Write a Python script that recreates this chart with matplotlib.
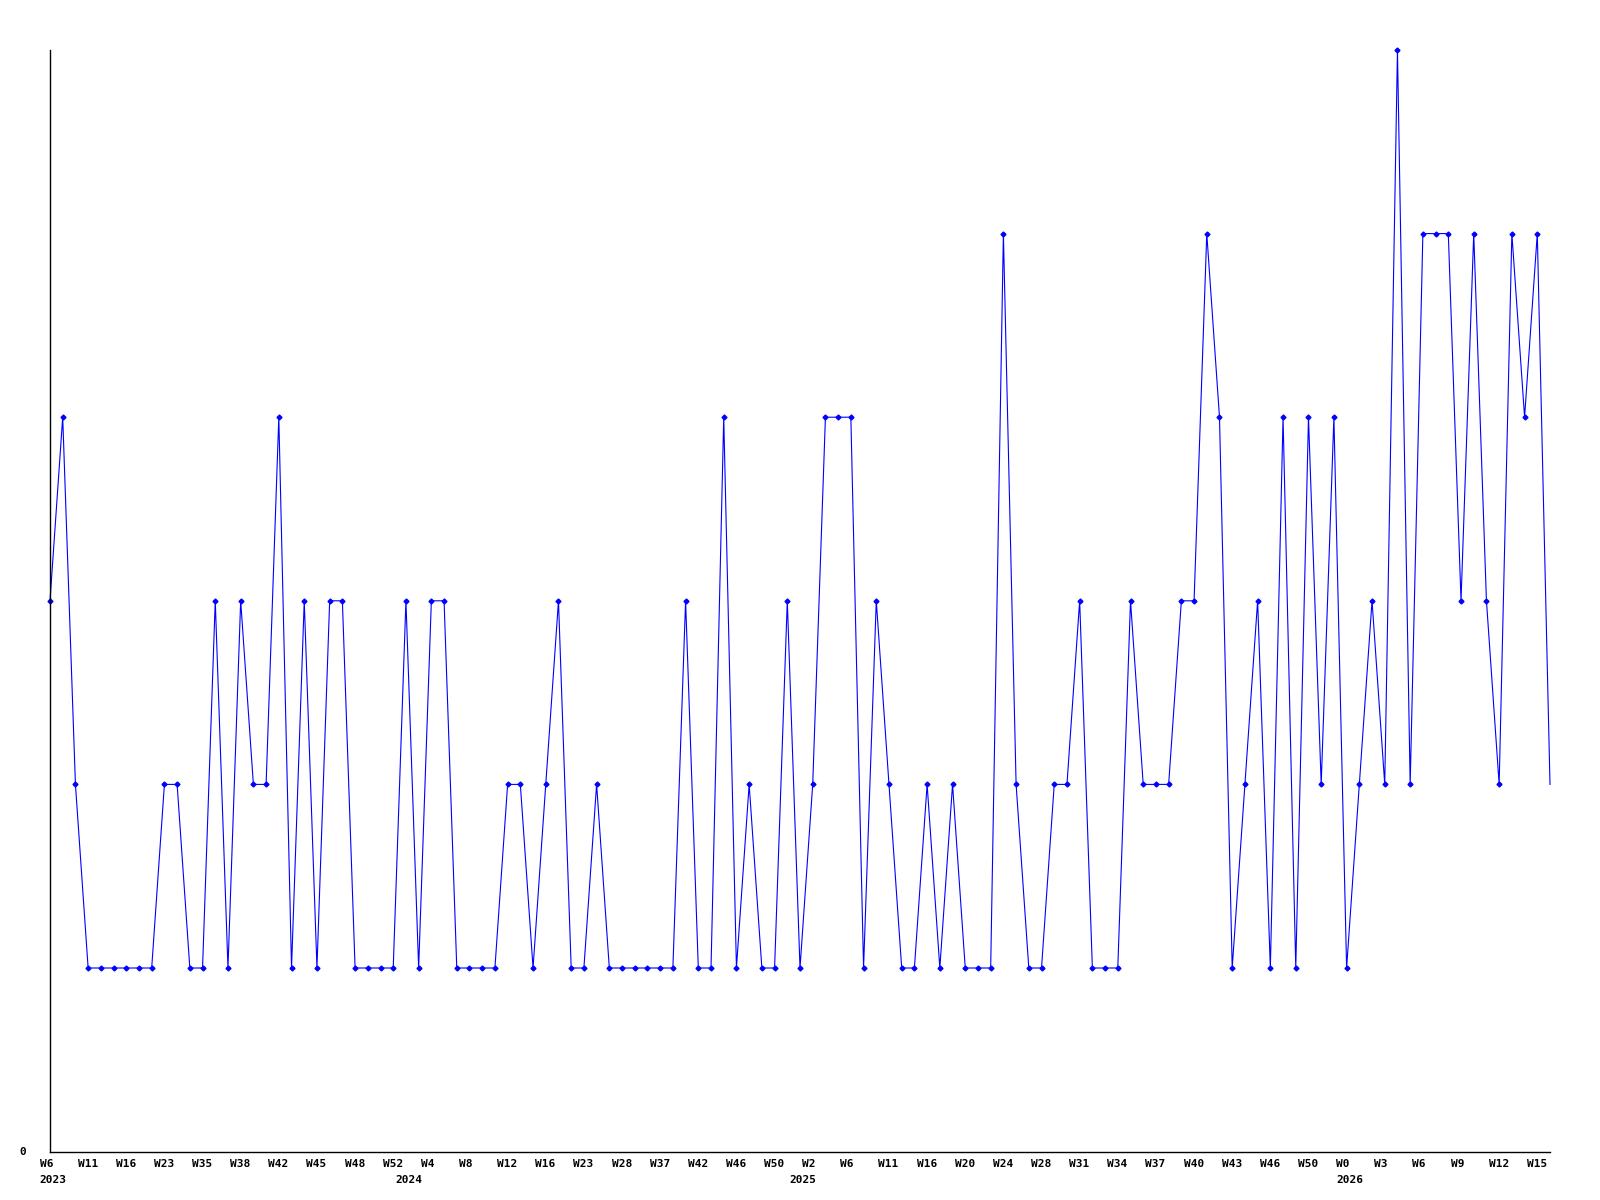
import matplotlib
matplotlib.use("Agg")
import matplotlib.pyplot as plt
import matplotlib.transforms as mtransforms
import numpy as np

# weekly values, one per data point
values = [3, 4, 2, 1, 1, 1, 1, 1, 1, 2, 2, 1, 1, 3, 1, 3, 2, 2, 4, 1,
          3, 1, 3, 3, 1, 1, 1, 1, 3, 1, 3, 3, 1, 1, 1, 1, 2, 2, 1, 2,
          3, 1, 1, 2, 1, 1, 1, 1, 1, 1, 3, 1, 1, 4, 1, 2, 1, 1, 3, 1,
          2, 4, 4, 4, 1, 3, 2, 1, 1, 2, 1, 2, 1, 1, 1, 5, 2, 1, 1, 2,
          2, 3, 1, 1, 1, 3, 2, 2, 2, 3, 3, 5, 4, 1, 2, 3, 1, 4, 1, 4,
          2, 4, 1, 2, 3, 2, 6, 2, 5, 5, 5, 3, 5, 3, 2, 5, 4, 5, 2]

# a week label on every third point
week_labels = ['W6', 'W11', 'W16', 'W23', 'W35', 'W38', 'W42', 'W45', 'W48', 'W52',
               'W4', 'W8', 'W12', 'W16', 'W23', 'W28', 'W37', 'W42', 'W46', 'W50',
               'W2', 'W6', 'W11', 'W16', 'W20', 'W24', 'W28', 'W31', 'W34', 'W37',
               'W40', 'W43', 'W46', 'W50', 'W0', 'W3', 'W6', 'W9', 'W12', 'W15']
label_step = 3

# first point of each year
year_idx = [0, 28, 59, 102]
year_names = ['2023', '2024', '2025', '2026']

x = np.arange(len(values))

fig = plt.figure(figsize=(16, 12), dpi=100)
ax = fig.add_axes([50 / 1600, 1 - 1151.6 / 1200, 1500 / 1600, 1101.6 / 1200])

ax.plot(x, values, color='#0000ff', lw=0.8, marker='D', ms=2.5,
        markevery=list(range(len(values) - 1)), clip_on=False)

ax.set_xlim(0, len(values) - 1)
ax.set_ylim(0, 6)
for s in ['top', 'right']:
    ax.spines[s].set_visible(False)
for s in ['left', 'bottom']:
    ax.spines[s].set_linewidth(1.0)
ax.set_xticks([])
ax.set_yticks([])

font = dict(family='DejaVu Sans Mono', fontweight='bold', fontsize=8)
base = ax.get_xaxis_transform()
week_tr = base + mtransforms.ScaledTranslation(-10.5 / 100, -12 / 100, fig.dpi_scale_trans)
year_tr = base + mtransforms.ScaledTranslation(-10.5 / 100, -28.5 / 100, fig.dpi_scale_trans)

for k, lab in enumerate(week_labels):
    ax.text(k * label_step, 0, lab, transform=week_tr, ha='left', va='center', **font)
for i, name in zip(year_idx, year_names):
    ax.text(i, 0, name, transform=year_tr, ha='left', va='center', **font)

zero_tr = ax.transAxes + mtransforms.ScaledTranslation(-27.5 / 100, 0, fig.dpi_scale_trans)
ax.text(0, 0, '0', transform=zero_tr, ha='center', va='center', **font)

fig.savefig('out.png', dpi=100)
